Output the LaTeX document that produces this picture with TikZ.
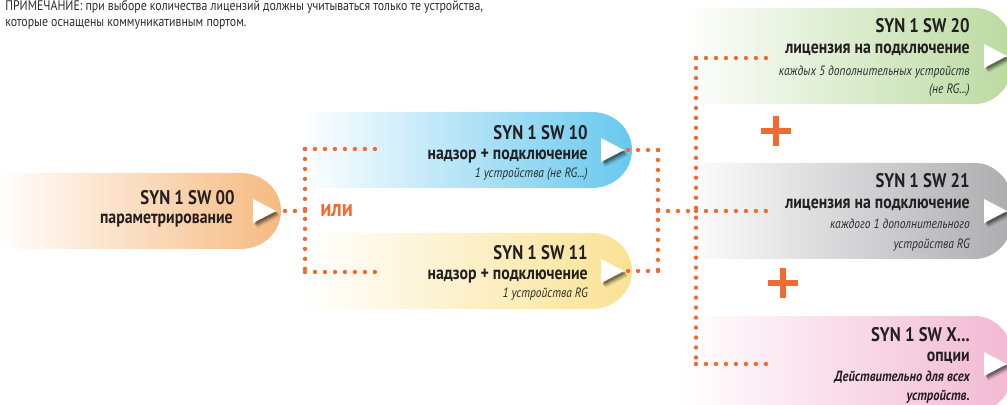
\documentclass[tikz,border=0pt]{standalone}
\usepackage{fontspec}
\setmainfont{PT Sans}[FakeStretch=0.85]
\usepackage{xcolor}
\usepackage{tikz}
\usetikzlibrary{positioning}

\definecolor{dotorange}{RGB}{242,106,48}
\definecolor{txtdark}{RGB}{35,31,32}
\definecolor{txtgrey}{RGB}{45,45,45}
\definecolor{boxorange}{RGB}{246,186,128}
\definecolor{boxblue}{RGB}{104,200,238}
\definecolor{boxyellow}{RGB}{250,226,148}
\definecolor{boxgreen}{RGB}{186,218,160}
\definecolor{boxgrey}{RGB}{172,172,175}
\definecolor{boxpink}{RGB}{242,184,210}

% shaded pill: left, top, right, bottom, colour
\newcommand{\pill}[5]{%
  \shade[left color=white, right color=#5]
    (#1,#2) -- ({#3-40},#2)
    arc[start angle=-90, end angle=90, x radius=40, y radius={(#4-#2)/2}]
    -- (#1,#4) -- cycle;
}
% white pointer with a soft shadow, tip at a named coordinate
\newcommand{\pointer}[1]{%
  \foreach \dx/\dy/\op in {4/5/.12, 3/3.5/.2, 2/2/.3}
    \fill[black, opacity=\op] ([shift={(-23+\dx,-12+\dy)}]#1) -- ([shift={(\dx,\dy)}]#1)
      -- ([shift={(-23+\dx,12+\dy)}]#1) -- cycle;
  \fill[white] ([shift={(-23,-12)}]#1) -- (#1) -- ([shift={(-23,12)}]#1) -- cycle;
}

\begin{document}
\begin{tikzpicture}[x=0.025cm, y=-0.025cm,
    ttl/.style={anchor=base east, inner sep=0pt, text=txtdark,
      font=\bfseries\fontsize{14}{14}\selectfont},
    sub/.style={anchor=base east, inner sep=0pt, text=txtdark,
      font=\bfseries\fontsize{13.2}{13.2}\selectfont},
    info/.style={anchor=base east, inner sep=0pt, text=txtgrey,
      font=\itshape\fontsize{9.6}{9.6}\selectfont},
    infob/.style={info, text=txtdark,
      font=\bfseries\itshape\fontsize{10.5}{10.5}\selectfont},
    dots/.style={draw=dotorange, line width=3.1pt, line cap=round,
      dash pattern=on 0pt off 7.1pt},
    plus/.style={draw=dotorange, line width=3.8pt}]
  \useasboundingbox (0,0) rectangle (1007,405);
  \clip (0,0) rectangle (1007,405);

  % note on top
  \node[anchor=base west, inner sep=0pt, text=txtgrey, font=\fontsize{9.9}{9.9}\selectfont]
    (note1) at (5,11) {ПРИМЕЧАНИЕ: при выборе количества лицензий должны учитываться только те устройства,};
  \node[anchor=base west, inner sep=0pt, text=txtgrey, font=\fontsize{9.9}{9.9}\selectfont]
    (note2) at (5,27) {которые оснащены коммуникативным портом.};

  % boxes
  \pill{-5}{173}{281}{249}{boxorange}
  \pill{300}{112}{632}{188}{boxblue}
  \pill{300}{233}{632}{309}{boxyellow}
  \pill{680}{8}{1015}{104}{boxgreen}
  \pill{680}{163}{1015}{259}{boxgrey}
  \pill{680}{316}{1015}{412}{boxpink}

  % pointer tips
  \coordinate (t00) at (276,211);
  \coordinate (t10) at (624,150);
  \coordinate (t11) at (624,271);
  \coordinate (t20) at (1007,56);
  \coordinate (t21) at (1007,211);
  \coordinate (tX) at (1007,364);
  \foreach \t in {t00,t10,t11,t20,t21,tX} {\pointer{\t}}

  % texts
  \node[ttl] (b00) at (235,205) {SYN 1 SW 00};
  \node[sub] (b00s) at (233,224) {параметрирование};

  \node[ttl] (b10) at (588,140) {SYN 1 SW 10};
  \node[sub] (b10s) at (588,160) {надзор + подключение};
  \node[info] (b10n) at (588,178) {1 устройства (не RG...)};

  \node[ttl] (b11) at (588,260) {SYN 1 SW 11};
  \node[sub] (b11s) at (588,280) {надзор + подключение};
  \node[info] (b11n) at (588,298) {1 устройства RG};

  \node[ttl] (b20) at (970,33) {SYN 1 SW 20};
  \node[sub] (b20s) at (970,54) {лицензия на подключение};
  \node[info] (b20n) at (970,76) {каждых 5 дополнительных устройств};
  \node[info] (b20m) at (970,94) {(не RG...)};

  \node[ttl] (b21) at (970,188) {SYN 1 SW 21};
  \node[sub] (b21s) at (970,209) {лицензия на подключение};
  \node[info] (b21n) at (970,229) {каждого 1 дополнительного};
  \node[info] (b21m) at (970,249) {устройства RG};

  \node[ttl] (bX) at (970,342) {SYN 1 SW X...};
  \node[sub] (bXs) at (970,362) {опции};
  \node[infob] (bXn) at (970,382) {Действительно для всех};
  \node[infob] (bXm) at (970,401) {устройств.};

  \node[anchor=base west, inner sep=0pt, text=dotorange,
    font=\bfseries\fontsize{17}{17}\selectfont] (ili) at (320,217) {или};

  % dotted connectors
  \coordinate (j0) at (305,211);
  \coordinate (j0a) at (305,149);
  \coordinate (j0b) at (305,272);
  \coordinate (e10) at (377,149);
  \coordinate (e11) at (377,272);
  \draw[dots] (j0) -- (t00);
  \draw[dots] (j0a) -- (j0b);
  \draw[dots] (j0a) -- (e10);
  \draw[dots] (j0b) -- (e11);

  \coordinate (j1a) at (658,150);
  \coordinate (j1b) at (658,271);
  \coordinate (j1m) at (658,211);
  \draw[dots] (j1a) -- (t10);
  \draw[dots] (j1b) -- (t11);
  \draw[dots] (j1a) -- (j1b);

  \coordinate (j2a) at (696,58);
  \coordinate (j2m) at (696,211);
  \coordinate (j2b) at (696,364);
  \coordinate (e20) at (773,58);
  \coordinate (e21) at (773,211);
  \coordinate (e2X) at (773,364);
  \draw[dots] (j1m) -- (j2m);
  \draw[dots] (j2a) -- (j2b);
  \draw[dots] (j2a) -- (e20);
  \draw[dots] (j2m) -- (e21);
  \draw[dots] (j2b) -- (e2X);

  % plus signs
  \draw[plus] (761,131) -- (791,131) (776,116) -- (776,146);
  \draw[plus] (768,283) -- (798,283) (783,268) -- (783,298);
\end{tikzpicture}
\end{document}
